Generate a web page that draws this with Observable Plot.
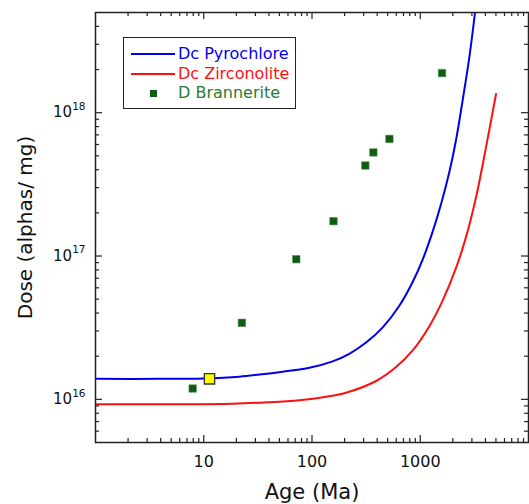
<!DOCTYPE html>
<html>
<head>
<meta charset="utf-8">
<script src="https://cdn.jsdelivr.net/npm/d3@7"></script>
<script src="https://cdn.jsdelivr.net/npm/@observablehq/plot@0.6"></script>
<style>
  body { margin: 0; background: #fff; }
  #wrap { position: relative; width: 529px; height: 504px; overflow: hidden; font-family: "DejaVu Sans", sans-serif; }
  #legend { position: absolute; left: 123px; top: 37px; width: 173px; height: 72px; border: 1.5px solid #222; background: #fff; box-sizing: border-box; }
  .lg-line { position: absolute; height: 2px; }
  .lg-sq { position: absolute; }
  .lg-text { position: absolute; font-size: 16px; line-height: 20px; white-space: nowrap; }
</style>
</head>
<body>
<div id="wrap"></div>
<script>
// ---- data ----
const pyroAge  = [1, 4, 10, 21.4, 32.7, 53.6, 94.7, 155, 221, 316, 450, 641, 851, 1052, 1302, 1557, 1857, 2141, 2464, 2840, 3206];
const pyroDose = [1.39e16, 1.39e16, 1.40e16, 1.44e16, 1.49e16, 1.56e16, 1.66e16, 1.84e16, 2.08e16, 2.49e16, 3.18e16, 4.50e16, 6.59e16, 9.44e16, 1.48e17, 2.31e17, 3.86e17, 6.45e17, 1.22e18, 2.43e18, 5.0e18];

const zircAge  = [1, 18.5, 37.7, 76.5, 135, 206, 391, 598, 851, 1214, 1610, 2141, 2650, 3277, 4052, 5012];
const zircDose = [9.23e15, 9.33e15, 9.53e15, 9.86e15, 1.042e16, 1.112e16, 1.343e16, 1.679e16, 2.193e16, 3.24e16, 4.88e16, 8.26e16, 1.36e17, 2.57e17, 5.75e17, 1.35e18];

const brannAge  = [7.9, 22.5, 71.6, 158, 311, 369, 519, 1589];
const brannDose = [1.19e16, 3.42e16, 9.5e16, 1.75e17, 4.28e17, 5.28e17, 6.56e17, 1.89e18];

const refAge  = [11.3];
const refDose = [1.39e16];

const xTickLabels = [10, 100, 1000];
const yTickLabels = [1e16, 1e17, 1e18];

const legendLabels = ["Dc Pyrochlore", "Dc Zirconolite", "D Brannerite"];
const legendKinds  = ["line", "line", "square"];
const legendColors = ["#0000f0", "#ff1010", "#2a7a30"];

const xLabel = "Age (Ma)";
const yLabel = "Dose (alphas/ mg)";

// ---- derived ----
const xDomain = [1, 10000];
const yDomain = [5e15, 5e18];
const zip = (a, b) => a.map((v, i) => ({x: v, y: b[i]}));

function logTicks(lo, hi) {
  const out = [];
  for (let e = Math.floor(Math.log10(lo)); e <= Math.ceil(Math.log10(hi)); e++) {
    for (let m = 1; m <= 9; m++) {
      const v = m * Math.pow(10, e);
      if (v >= lo * 0.999 && v <= hi * 1.001) out.push({v, major: m === 1});
    }
  }
  return out;
}
const xT = logTicks(xDomain[0], xDomain[1]).filter(d => d.v > xDomain[0] && d.v < xDomain[1]);
const yT = logTicks(yDomain[0], yDomain[1]).filter(d => d.v > yDomain[0] && d.v < yDomain[1]);
const xMaj = xT.filter(d => d.major), xMin = xT.filter(d => !d.major);
const yMaj = yT.filter(d => d.major), yMin = yT.filter(d => !d.major);

const W = 529, H = 504, mL = 95, mR = 1, mT = 12, mB = 62;
const pw = W - mL - mR, ph = H - mT - mB;
const LMAJ = 7, LMIN = 4, tc = "#222";

const chart = Plot.plot({
  width: W, height: H,
  marginLeft: mL, marginRight: mR, marginTop: mT, marginBottom: mB,
  x: {type: "log", domain: xDomain, axis: null},
  y: {type: "log", domain: yDomain, axis: null},
  style: {fontFamily: "'DejaVu Sans', sans-serif", color: "#111", background: "#fff"},
  marks: [
    // inward ticks, all four sides
    Plot.tickX(xMaj, {x: "v", insetTop: ph - LMAJ, stroke: tc, strokeWidth: 1.2}),
    Plot.tickX(xMin, {x: "v", insetTop: ph - LMIN, stroke: tc, strokeWidth: 1.2}),
    Plot.tickX(xMaj, {x: "v", insetBottom: ph - LMAJ, stroke: tc, strokeWidth: 1.2}),
    Plot.tickX(xMin, {x: "v", insetBottom: ph - LMIN, stroke: tc, strokeWidth: 1.2}),
    Plot.tickY(yMaj, {y: "v", insetRight: pw - LMAJ, stroke: tc, strokeWidth: 1.2}),
    Plot.tickY(yMin, {y: "v", insetRight: pw - LMIN, stroke: tc, strokeWidth: 1.2}),
    Plot.tickY(yMaj, {y: "v", insetLeft: pw - LMAJ, stroke: tc, strokeWidth: 1.2}),
    Plot.tickY(yMin, {y: "v", insetLeft: pw - LMIN, stroke: tc, strokeWidth: 1.2}),
    Plot.axisX({ticks: xTickLabels, tickSize: 0, tickPadding: 13, fontSize: 16, tickFormat: d => String(d), label: null}),
    Plot.axisY({ticks: yTickLabels, tickSize: 0, tickPadding: 10, fontSize: 15, tickFormat: d => "10^" + Math.round(Math.log10(d)), label: null}),
    // curves
    Plot.line(zip(zircAge, zircDose), {x: "x", y: "y", stroke: legendColors[1], strokeWidth: 2, curve: "catmull-rom", clip: true}),
    Plot.line(zip(pyroAge, pyroDose), {x: "x", y: "y", stroke: legendColors[0], strokeWidth: 2, curve: "catmull-rom", clip: true}),
    // points
    Plot.dot(zip(brannAge, brannDose), {x: "x", y: "y", symbol: "square", r: 4.2, fill: "#0f5c14", stroke: "#4a8a4a", strokeWidth: 0.6}),
    Plot.dot(zip(refAge, refDose), {x: "x", y: "y", symbol: "square", r: 5.8, fill: "#ffff00", stroke: "#333", strokeWidth: 1.3}),
    Plot.frame({stroke: "#222", strokeWidth: 1.5}),
    // axis titles
    Plot.text([yLabel], {text: d => d, frameAnchor: "left", textAnchor: "middle", lineAnchor: "middle", dx: -70, rotate: -90, fontSize: 20, fill: "#111"}),
    Plot.text([xLabel], {text: d => d, frameAnchor: "bottom", textAnchor: "middle", lineAnchor: "middle", dy: 50, fontSize: 21, fill: "#111"})
  ]
});

// superscript exponents on the y tick labels
chart.querySelectorAll('g[aria-label="y-axis tick label"] text').forEach(t => {
  const s = t.textContent;
  const m = s.match(/^10\^(-?\d+)$/);
  if (!m) return;
  t.textContent = "";
  const ns = "http://www.w3.org/2000/svg";
  const a = document.createElementNS(ns, "tspan"); a.textContent = "10";
  const b = document.createElementNS(ns, "tspan"); b.textContent = m[1];
  b.setAttribute("dy", "-0.7em"); b.setAttribute("font-size", "10.5");
  t.appendChild(a); t.appendChild(b);
});

const wrap = document.getElementById("wrap");
wrap.appendChild(chart);

// legend (inside the plot area, as in the reference)
const legend = document.createElement("div");
legend.id = "legend";
wrap.appendChild(legend);
const rowY = [54.3, 74, 93.3];
legendLabels.forEach((lab, i) => {
  const c = legendColors[i];
  if (legendKinds[i] === "line") {
    const l = document.createElement("div");
    l.className = "lg-line";
    l.style.cssText = `left:131px;top:${rowY[i] - 1}px;width:44px;background:${c};`;
    wrap.appendChild(l);
  } else {
    const s = document.createElement("div");
    s.className = "lg-sq";
    s.style.cssText = `left:150px;top:${rowY[i] - 3.5}px;width:7px;height:7px;background:#0f5c14;`;
    wrap.appendChild(s);
  }
  const t = document.createElement("div");
  t.className = "lg-text";
  t.style.cssText = `left:178px;top:${rowY[i] - 10}px;color:${c};`;
  t.textContent = lab;
  wrap.appendChild(t);
});
</script>
</body>
</html>
